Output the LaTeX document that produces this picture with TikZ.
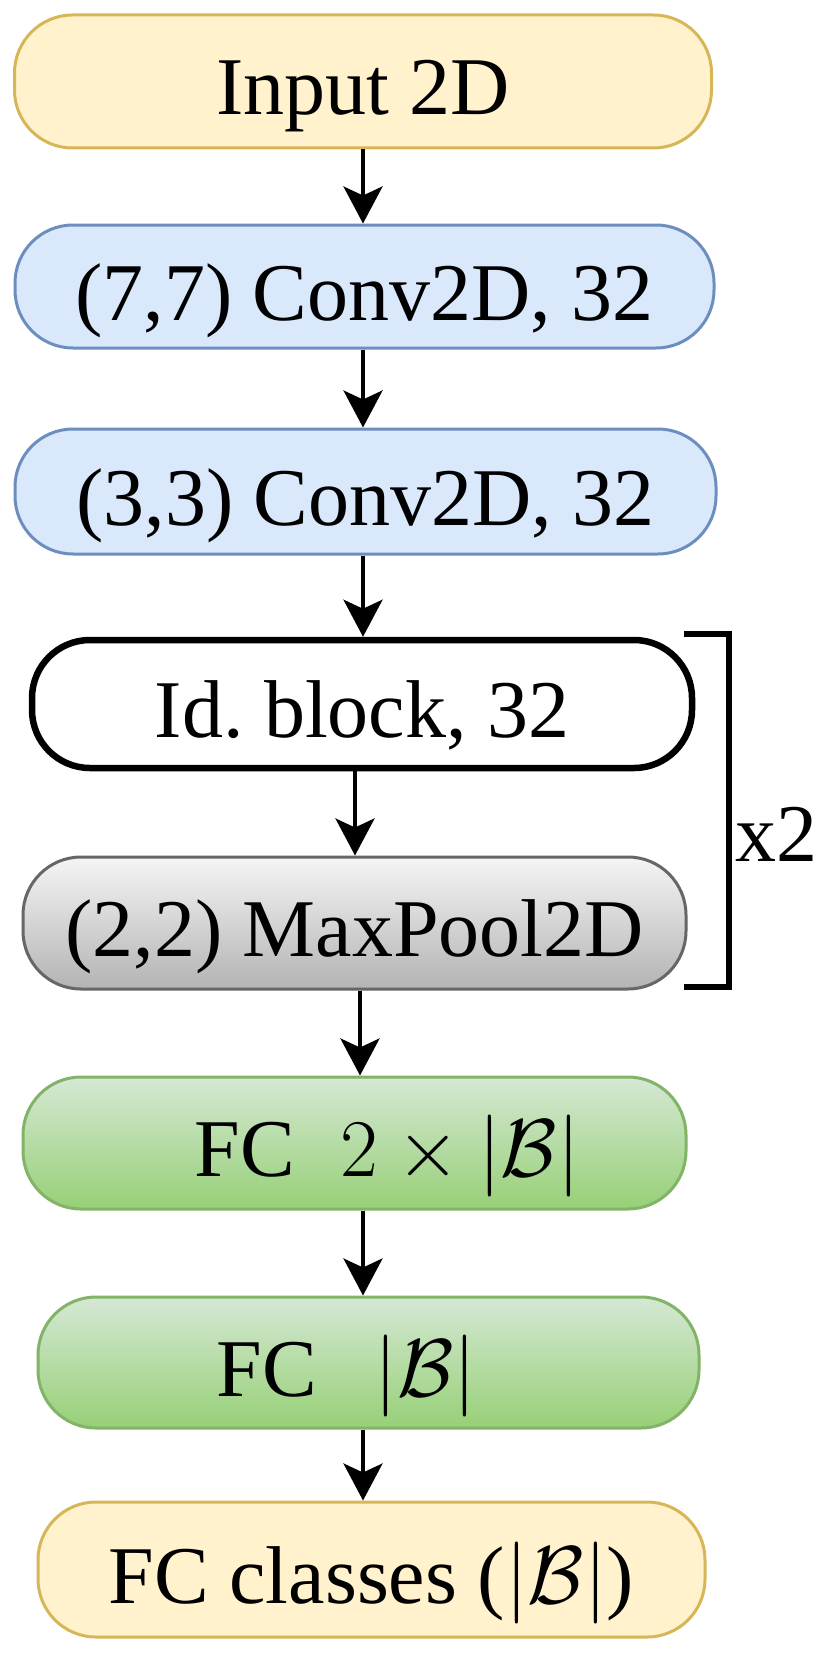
\RequirePackage{fix-cm}
\documentclass[tikz,border=0pt]{standalone}
\usepackage{fontspec}
\setmainfont{Liberation Serif}
\usetikzlibrary{arrows.meta}
\definecolor{yelF}{HTML}{FFF2CC}
\definecolor{yelD}{HTML}{D6B656}
\definecolor{bluF}{HTML}{DAE8FC}
\definecolor{bluD}{HTML}{6C8EBF}
\definecolor{grnT}{HTML}{D5E8D4}
\definecolor{grnB}{HTML}{97D077}
\definecolor{grnD}{HTML}{82B366}
\definecolor{gryT}{HTML}{F5F5F5}
\definecolor{gryB}{HTML}{B3B3B3}
\definecolor{gryD}{HTML}{666666}
\tikzset{
  box/.style={rectangle, rounded corners=58pt, inner sep=0pt, line width=3pt,
    font=\fontsize{82}{96}\selectfont, text height=69pt, text depth=2pt},
  yelbox/.style={box, draw=yelD, fill=yelF},
  blubox/.style={box, draw=bluD, fill=bluF},
  grnbox/.style={box, draw=grnD, top color=grnT, bottom color=grnB},
  grybox/.style={box, draw=gryD, top color=gryT, bottom color=gryB},
  idbox/.style={box, draw=black, fill=white, line width=6.5pt},
  arr/.style={line width=3.8pt, -{Stealth[length=37pt,width=39pt,inset=9pt]}},
}
\begin{document}
\begin{tikzpicture}[x=1pt,y=1pt]
\useasboundingbox (0,0) rectangle (830,-1656);
\node[yelbox, minimum width=697pt, minimum height=133pt] (in) at (363,-81.5) {Input 2D};
\node[blubox, minimum width=699pt, minimum height=123pt] (c1) at (364.5,-286.5) {(7,7) Conv2D, 32};
\node[blubox, minimum width=701pt, minimum height=125pt] (c2) at (365.5,-491.5) {(3,3) Conv2D, 32};
\node[idbox, minimum width=660pt, minimum height=128pt] (id) at (362,-704) {Id.\ block, 32};
\node[grybox, minimum width=663pt, minimum height=132pt] (mp) at (354.5,-923) {(2,2) MaxPool2D};
\node[grnbox, minimum width=663pt, minimum height=132pt] (f1) at (354.5,-1143) {\hspace*{66pt}FC\hspace{0.55em}$2\times|\mathcal{B}|$};
\node[grnbox, minimum width=661pt, minimum height=131pt] (f2) at (368.5,-1362.5) {FC\hspace{0.7em}$|\mathcal{B}|$\hspace*{44pt}};
\node[yelbox, minimum width=667pt, minimum height=135pt] (fc) at (371.5,-1569.5) {FC classes ($|\mathcal{B}|$)};

\coordinate (xa) at (363,0);
\coordinate (xb) at (355,0);
\coordinate (xc) at (360,0);
\draw[arr] (in.south -| xa) -- (c1.north -| xa);
\draw[arr] (c1.south -| xa) -- (c2.north -| xa);
\draw[arr] (c2.south -| xa) -- (id.north -| xa);
\draw[arr] (id.south -| xb) -- (mp.north -| xb);
\draw[arr] (mp.south -| xc) -- (f1.north -| xc);
\draw[arr] (f1.south -| xa) -- (f2.north -| xa);
\draw[arr] (f2.south -| xa) -- (fc.north -| xa);

\coordinate (bt) at (684,-634);
\coordinate (bb) at (684,-987);
\draw[line width=6pt] (bt) -- ++(45,0) |- (bb);
\node[font=\fontsize{82}{96}\selectfont, inner sep=0pt] (x2) at (776,-834) {x2};
\end{tikzpicture}
\end{document}
